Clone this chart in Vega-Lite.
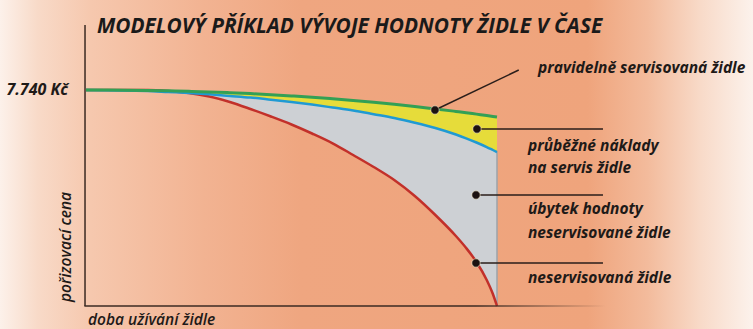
{
  "$schema": "https://vega.github.io/schema/vega-lite/v6.json",
  "width": 753,
  "height": 329,
  "autosize": "none",
  "padding": 0,
  "background": "#f9e6da",
  "config": {"view": {"stroke": null}},
  "datasets": {
    "curves": [
      {"t": 0, "green": 7740, "blue": 7740, "red": 7740},
      {"t": 1.5, "green": 7726, "blue": 7704, "red": 7740},
      {"t": 2, "green": 7711, "blue": 7668, "red": 7704},
      {"t": 2.5, "green": 7693, "blue": 7632, "red": 7632},
      {"t": 3, "green": 7672, "blue": 7586, "red": 7507},
      {"t": 3.5, "green": 7643, "blue": 7529, "red": 7310},
      {"t": 4, "green": 7611, "blue": 7471, "red": 7059},
      {"t": 4.5, "green": 7572, "blue": 7392, "red": 6790},
      {"t": 5, "green": 7529, "blue": 7310, "red": 6504},
      {"t": 5.5, "green": 7482, "blue": 7217, "red": 6181},
      {"t": 6, "green": 7425, "blue": 7113, "red": 5830},
      {"t": 6.5, "green": 7364, "blue": 7006, "red": 5411},
      {"t": 7, "green": 7299, "blue": 6873, "red": 4981},
      {"t": 7.5, "green": 7228, "blue": 6737, "red": 4515},
      {"t": 8, "green": 7149, "blue": 6568, "red": 3942},
      {"t": 8.5, "green": 7063, "blue": 6378, "red": 3261},
      {"t": 9, "green": 6973, "blue": 6145, "red": 2508},
      {"t": 9.25, "green": 6927, "blue": 6009, "red": 2078},
      {"t": 9.5, "green": 6876, "blue": 5859, "red": 1577},
      {"t": 9.75, "green": 6826, "blue": 5697, "red": 932},
      {"t": 9.9, "green": 6794, "blue": 5590, "red": 430},
      {"t": 10, "green": 6772, "blue": 5518, "red": 0}
    ],
    "labels": [
      {"t": 11.0, "v": 8528, "text": "pravidelně servisovaná židle"},
      {"t": 10.754, "v": 5750, "text": "průběžné náklady"},
      {"t": 10.754, "v": 4960, "text": "na servis židle"},
      {"t": 10.754, "v": 3460, "text": "úbytek hodnoty"},
      {"t": 10.754, "v": 2600, "text": "neservisované židle"},
      {"t": 10.754, "v": 1003, "text": "neservisovaná židle"}
    ],
    "leaders": [
      {"t": 8.491, "v": 7023, "t2": 10.53, "v2": 8456},
      {"t": 9.513, "v": 6343, "t2": 12.579, "v2": 6343},
      {"t": 9.489, "v": 3977, "t2": 12.579, "v2": 3977},
      {"t": 9.489, "v": 1541, "t2": 12.579, "v2": 1541}
    ]
  },
  "layer": [
    {
      "data": {"values": [{"a": -2.0925, "b": 16.229, "c": -824.2, "d": 10965}]},
      "mark": {
        "type": "rect",
        "fill": {
          "gradient": "linear", "x1": 0, "x2": 1, "y1": 0, "y2": 0,
          "stops": [
            {"offset": 0, "color": "#fcf1ea"},
            {"offset": 0.05, "color": "#f8dac8"},
            {"offset": 0.12, "color": "#f6c8ae"},
            {"offset": 0.27, "color": "#f2b392"},
            {"offset": 0.4, "color": "#efa680"},
            {"offset": 0.78, "color": "#efa47c"},
            {"offset": 0.86, "color": "#f3bb9c"},
            {"offset": 0.93, "color": "#f8dac8"},
            {"offset": 1, "color": "#fcf2ec"}
          ]
        }
      },
      "encoding": {
        "x": {"field": "a", "type": "quantitative", "scale": {"domain": [-2.0925, 16.229], "nice": false, "zero": false}, "axis": null},
        "x2": {"field": "b"},
        "y": {"field": "c", "type": "quantitative", "scale": {"domain": [-824.2, 10965], "nice": false, "zero": false}, "axis": null},
        "y2": {"field": "d"}
      }
    },
    {
      "data": {"name": "curves"},
      "mark": {"type": "area", "interpolate": "monotone", "color": "#cdd0d4"},
      "encoding": {
        "x": {"field": "t", "type": "quantitative"},
        "y": {"field": "blue", "type": "quantitative"},
        "y2": {"field": "red"}
      }
    },
    {
      "data": {"name": "curves"},
      "mark": {"type": "area", "interpolate": "monotone", "color": "#e6dc3a"},
      "encoding": {
        "x": {"field": "t", "type": "quantitative"},
        "y": {"field": "green", "type": "quantitative"},
        "y2": {"field": "blue"}
      }
    },
    {
      "data": {"values": [{"t": 10, "v": 5518, "v2": 0}]},
      "mark": {"type": "rule", "color": "#9da3ab", "strokeWidth": 1.5},
      "encoding": {
        "x": {"field": "t", "type": "quantitative"},
        "y": {"field": "v", "type": "quantitative"},
        "y2": {"field": "v2"}
      }
    },
    {
      "data": {"name": "curves"},
      "mark": {"type": "line", "interpolate": "monotone", "color": "#c2302a", "strokeWidth": 2.5},
      "encoding": {
        "x": {"field": "t", "type": "quantitative"},
        "y": {"field": "red", "type": "quantitative"}
      }
    },
    {
      "data": {"name": "curves"},
      "mark": {"type": "line", "interpolate": "monotone", "color": "#1f9ad3", "strokeWidth": 2.5},
      "encoding": {
        "x": {"field": "t", "type": "quantitative"},
        "y": {"field": "blue", "type": "quantitative"}
      }
    },
    {
      "data": {"name": "curves"},
      "mark": {"type": "line", "interpolate": "monotone", "color": "#33a055", "strokeWidth": 3},
      "encoding": {
        "x": {"field": "t", "type": "quantitative"},
        "y": {"field": "green", "type": "quantitative"}
      }
    },
    {
      "data": {"values": [{"t": -0.024, "v": 0, "v2": 10069}]},
      "mark": {"type": "rule", "color": "#3b2a22", "strokeWidth": 1.5},
      "encoding": {
        "x": {"field": "t", "type": "quantitative"},
        "y": {"field": "v", "type": "quantitative"},
        "y2": {"field": "v2"}
      }
    },
    {
      "data": {"values": [{"t": -0.04, "t2": 12.65, "v": -25, "v2": 25}]},
      "mark": {
        "type": "rect",
        "fill": {
          "gradient": "linear", "x1": 0, "x2": 1, "y1": 0, "y2": 0,
          "stops": [
            {"offset": 0, "color": "#3b2a22"},
            {"offset": 0.75, "color": "#3b2a22"},
            {"offset": 1, "color": "rgba(59,42,34,0)"}
          ]
        }
      },
      "encoding": {
        "x": {"field": "t", "type": "quantitative"},
        "x2": {"field": "t2"},
        "y": {"field": "v", "type": "quantitative"},
        "y2": {"field": "v2"}
      }
    },
    {
      "data": {"name": "leaders"},
      "mark": {"type": "rule", "color": "#2a1e1a", "strokeWidth": 1.5},
      "encoding": {
        "x": {"field": "t", "type": "quantitative"},
        "x2": {"field": "t2"},
        "y": {"field": "v", "type": "quantitative"},
        "y2": {"field": "v2"}
      }
    },
    {
      "data": {"name": "leaders"},
      "mark": {"type": "point", "filled": true, "size": 70, "color": "#1c1210", "opacity": 1, "stroke": "#fff3d0", "strokeWidth": 1, "strokeOpacity": 0.6},
      "encoding": {
        "x": {"field": "t", "type": "quantitative"},
        "y": {"field": "v", "type": "quantitative"}
      }
    },
    {
      "data": {"name": "labels"},
      "mark": {"type": "text", "align": "left", "baseline": "middle", "font": "Open Sans", "fontSize": 15.5, "fontWeight": "bold", "fontStyle": "italic", "color": "#1e1a18"},
      "encoding": {
        "x": {"field": "t", "type": "quantitative"},
        "y": {"field": "v", "type": "quantitative"},
        "text": {"field": "text"}
      }
    },
    {
      "data": {"values": [{"t": 0.268, "v": 9997, "text": "MODELOVÝ PŘÍKLAD VÝVOJE HODNOTY ŽIDLE V ČASE"}]},
      "mark": {"type": "text", "align": "left", "baseline": "middle", "font": "Open Sans", "fontSize": 20.8, "fontWeight": "bold", "fontStyle": "italic", "color": "#1a1a1a"},
      "encoding": {
        "x": {"field": "t", "type": "quantitative"},
        "y": {"field": "v", "type": "quantitative"},
        "text": {"field": "text"}
      }
    },
    {
      "data": {"values": [{"t": -0.438, "v": 7740, "text": "7.740 Kč"}]},
      "mark": {"type": "text", "align": "right", "baseline": "middle", "font": "Open Sans", "fontSize": 16, "fontWeight": "bold", "fontStyle": "italic", "color": "#1e1a18"},
      "encoding": {
        "x": {"field": "t", "type": "quantitative"},
        "y": {"field": "v", "type": "quantitative"},
        "text": {"field": "text"}
      }
    },
    {
      "data": {"values": [{"t": -0.487, "v": 2114, "text": "pořizovací cena"}]},
      "mark": {"type": "text", "align": "center", "baseline": "middle", "angle": 270, "font": "Open Sans", "fontSize": 15.5, "fontWeight": 600, "fontStyle": "italic", "color": "#1e1a18"},
      "encoding": {
        "x": {"field": "t", "type": "quantitative"},
        "y": {"field": "v", "type": "quantitative"},
        "text": {"field": "text"}
      }
    },
    {
      "data": {"values": [{"t": 0.049, "v": -502, "text": "doba užívání židle"}]},
      "mark": {"type": "text", "align": "left", "baseline": "middle", "font": "Open Sans", "fontSize": 15.5, "fontWeight": 600, "fontStyle": "italic", "color": "#1e1a18"},
      "encoding": {
        "x": {"field": "t", "type": "quantitative"},
        "y": {"field": "v", "type": "quantitative"},
        "text": {"field": "text"}
      }
    }
  ]
}
